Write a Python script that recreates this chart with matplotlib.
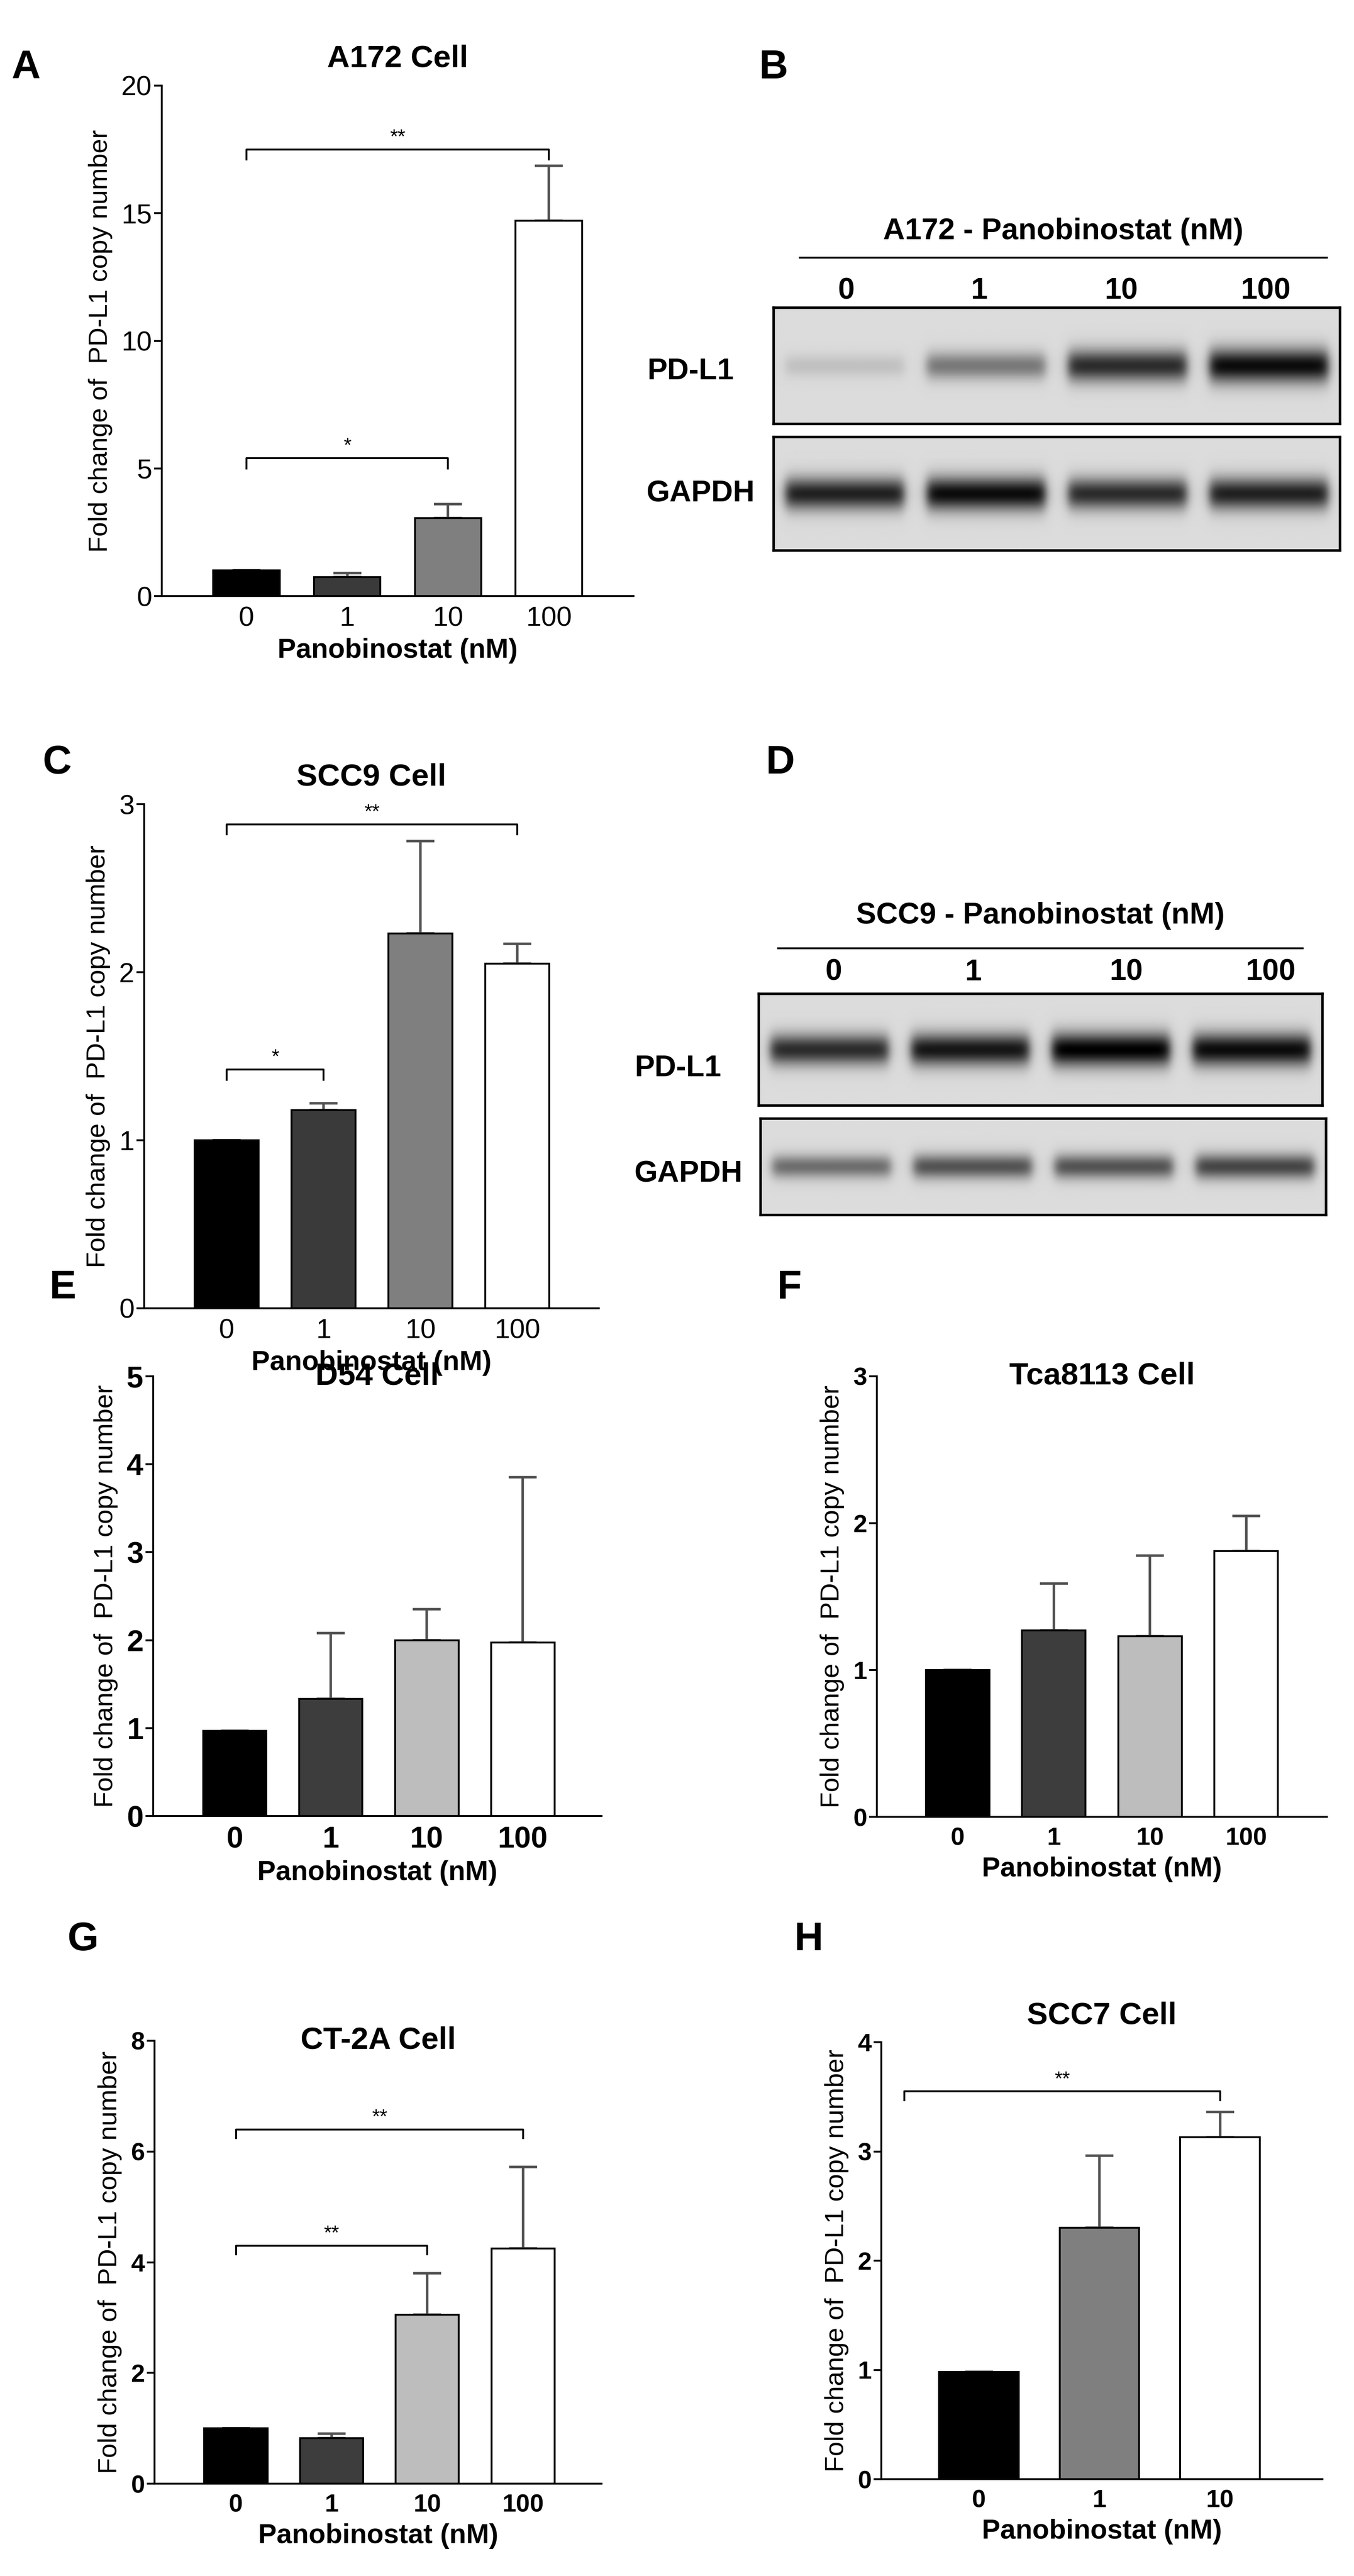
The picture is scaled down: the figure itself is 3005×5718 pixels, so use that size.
import numpy as np
import matplotlib
matplotlib.use("Agg")
import matplotlib.pyplot as plt

plt.rcParams["font.family"] = ["Liberation Sans", "DejaVu Sans"]

W, H = 3005, 5718

# ── data ──────────────────────────────────────────────────────────────
DOSES4 = ["0", "1", "10", "100"]
DOSES3 = ["0", "1", "10"]

a172_mean = [1.0, 0.75, 3.05, 14.7]
a172_top = [1.0, 0.9, 3.6, 16.85]
scc9_mean = [1.0, 1.18, 2.23, 2.05]
scc9_top = [1.0, 1.22, 2.78, 2.17]
d54_mean = [0.97, 1.33, 2.0, 1.97]
d54_top = [0.97, 2.08, 2.35, 3.85]
tca_mean = [1.0, 1.27, 1.23, 1.81]
tca_top = [1.0, 1.59, 1.78, 2.05]
ct2a_mean = [1.0, 0.82, 3.05, 4.25]
ct2a_top = [1.0, 0.9, 3.8, 5.72]
scc7_mean = [0.98, 2.3, 3.13]
scc7_top = [0.98, 2.96, 3.36]

# blot band intensities per lane (0 = none, 1 = saturated)
a172_pdl1 = [0.12, 0.45, 0.8, 0.95]
a172_gapdh = [0.85, 0.95, 0.8, 0.85]
scc9_pdl1 = [0.8, 0.9, 1.0, 0.95]
scc9_gapdh = [0.5, 0.62, 0.62, 0.68]


def rect(x0, y0, x1, y1):
    return [x0 / W, 1 - y1 / H, (x1 - x0) / W, (y1 - y0) / H]


fig = plt.figure(figsize=(W / 100, H / 100), dpi=100)


def bar_panel(box, labels, mean, top, colors, title, ylim, yticks, xlim,
              brackets=(), tick_fs=44, title_fs=50, label_fs=42, bold=False,
              title_y=None, ecolor="#505050"):
    ax = fig.add_axes(rect(*box))
    x = np.arange(len(labels))
    err = np.array(top) - np.array(mean)
    ax.bar(x, mean, width=0.66, color=colors, edgecolor="black", linewidth=3, zorder=2)
    ax.errorbar(x, mean, yerr=[np.zeros_like(err), err], fmt="none", ecolor=ecolor,
                elinewidth=4, capsize=22, capthick=4, zorder=1)
    ax.set_xlim(*xlim)
    ax.set_ylim(*ylim)
    ax.set_yticks(yticks)
    ax.set_xticks(x)
    ax.set_xticklabels(labels)
    wt = "bold" if bold else "normal"
    ax.tick_params(axis="both", labelsize=tick_fs, width=3, length=12)
    ax.tick_params(axis="x", length=0, pad=16)
    for t in ax.get_xticklabels() + ax.get_yticklabels():
        t.set_fontweight(wt)
    for s in ["top", "right"]:
        ax.spines[s].set_visible(False)
    for s in ["left", "bottom"]:
        ax.spines[s].set_linewidth(3)
    if title_y is None:
        ax.set_title(title, fontsize=title_fs, fontweight="bold", pad=30)
    else:
        ax.text(0.5, title_y, title, transform=ax.transAxes, ha="center", va="center",
                fontsize=title_fs, fontweight="bold")
    ax.set_xlabel("Panobinostat (nM)", fontsize=label_fs + 2, fontweight="bold", labelpad=10)
    ax.set_ylabel("Fold change of  PD-L1 copy number", fontsize=label_fs, labelpad=14)
    span = ylim[1] - ylim[0]
    for x0, x1, y, txt in brackets:
        d = span * 0.02
        ax.plot([x0, x0, x1, x1], [y - d, y, y, y - d], color="black", lw=3, clip_on=False)
        ax.text((x0 + x1) / 2, y + span * 0.005, txt, ha="center", va="bottom", fontsize=32)
    return ax


def blot(box, lanes):
    ax = fig.add_axes(rect(*box))
    ny, nx = 80, 600
    yy = np.linspace(-1, 1, ny)[:, None]
    xx = np.linspace(0, 4, nx)[None, :]
    img = np.full((ny, nx), 0.86)
    for i, v in enumerate(lanes):
        c = i + 0.5
        prof_x = 0.5 * (np.tanh((xx - (c - 0.42)) * 25) - np.tanh((xx - (c + 0.42)) * 25))
        prof_y = np.exp(-(yy / (0.18 + 0.12 * v)) ** 2)
        img = img - 0.86 * v * prof_x * prof_y
    img = np.clip(img, 0, 1)
    ax.imshow(img, cmap="gray", vmin=0, vmax=1, aspect="auto", extent=(0, 4, 0, 1))
    ax.set_xticks([])
    ax.set_yticks([])
    for s in ax.spines.values():
        s.set_linewidth(4)
    return ax


def blot_header(x0, x1, y_line, y_title, y_lanes, title, lane_x):
    fig.lines.append(plt.Line2D([x0 / W, x1 / W], [1 - y_line / H] * 2, color="black",
                                lw=3, transform=fig.transFigure))
    fig.text((x0 + x1) / 2 / W, 1 - y_title / H, title, ha="center", va="center",
             fontsize=48, fontweight="bold")
    for lx, lab in zip(lane_x, DOSES4):
        fig.text(lx / W, 1 - y_lanes / H, lab, ha="center", va="center",
                 fontsize=48, fontweight="bold")


C4a = ["black", "#3a3a3a", "#7f7f7f", "white"]
C4b = ["black", "#3d3d3d", "#bdbdbd", "white"]
C3 = ["black", "#7f7f7f", "white"]

# A
bar_panel((359, 190, 1406, 1323), DOSES4, a172_mean, a172_top, C4a, "A172 Cell",
          (0, 20), [0, 5, 10, 15, 20], (-0.84, 3.84),
          brackets=[(0, 3, 17.5, "**"), (0, 2, 5.4, "*")])
# C
bar_panel((320, 1785, 1329, 2904), DOSES4, scc9_mean, scc9_top, C4a, "SCC9 Cell",
          (0, 3), [0, 1, 2, 3], (-0.85, 3.84),
          brackets=[(0, 3, 2.88, "**"), (0, 1, 1.42, "*")])
# E
bar_panel((340, 3055, 1335, 4031), DOSES4, d54_mean, d54_top, C4b, "D54 Cell",
          (0, 5), [0, 1, 2, 3, 4, 5], (-0.85, 3.82), tick_fs=48, title_fs=50, bold=True,
          title_y=1.0)
# F
bar_panel((1946, 3055, 2945, 4033), DOSES4, tca_mean, tca_top, C4b, "Tca8113 Cell",
          (0, 3), [0, 1, 2, 3], (-0.84, 3.84), tick_fs=40, title_fs=50, bold=True,
          title_y=1.0)
# G
bar_panel((343, 4530, 1335, 5513), DOSES4, ct2a_mean, ct2a_top, C4b, "CT-2A Cell",
          (0, 8), [0, 2, 4, 6, 8], (-0.85, 3.82), tick_fs=40, title_fs=50, bold=True,
          title_y=1.0, brackets=[(0, 3, 6.4, "**"), (0, 2, 4.3, "**")])
# H
bar_panel((1956, 4533, 2935, 5503), DOSES3, scc7_mean, scc7_top, C3, "SCC7 Cell",
          (0, 4), [0, 1, 2, 3, 4], (-0.81, 2.85), tick_fs=40, title_fs=50, bold=True,
          title_y=1.06, brackets=[(-0.62, 2, 3.55, "**")])

# B
blot_header(1775, 2945, 572, 514, 646, "A172 - Panobinostat (nM)", [1878, 2173, 2489, 2809])
blot((1717, 683, 2974, 941), a172_pdl1)
blot((1717, 970, 2974, 1222), a172_gapdh)
fig.text(1533 / W, 1 - 825 / H, "PD-L1", ha="center", va="center", fontsize=48, fontweight="bold")
fig.text(1555 / W, 1 - 1096 / H, "GAPDH", ha="center", va="center", fontsize=48, fontweight="bold")

# D
blot_header(1727, 2891, 2105, 2033, 2159, "SCC9 - Panobinostat (nM)", [1850, 2160, 2500, 2820])
blot((1684, 2206, 2935, 2454), scc9_pdl1)
blot((1688, 2483, 2943, 2697), scc9_gapdh)
fig.text(1505 / W, 1 - 2372 / H, "PD-L1", ha="center", va="center", fontsize=48, fontweight="bold")
fig.text(1528 / W, 1 - 2607 / H, "GAPDH", ha="center", va="center", fontsize=48, fontweight="bold")

# panel letters
for lab, lx, ly in [("A", 58, 151), ("B", 1717, 151), ("C", 126, 1694), ("D", 1732, 1694),
                    ("E", 140, 2859), ("F", 1752, 2859), ("G", 184, 4306), ("H", 1795, 4306)]:
    fig.text(lx / W, 1 - ly / H, lab, ha="center", va="center", fontsize=64, fontweight="bold")

fig.savefig("out.png", dpi=100)
